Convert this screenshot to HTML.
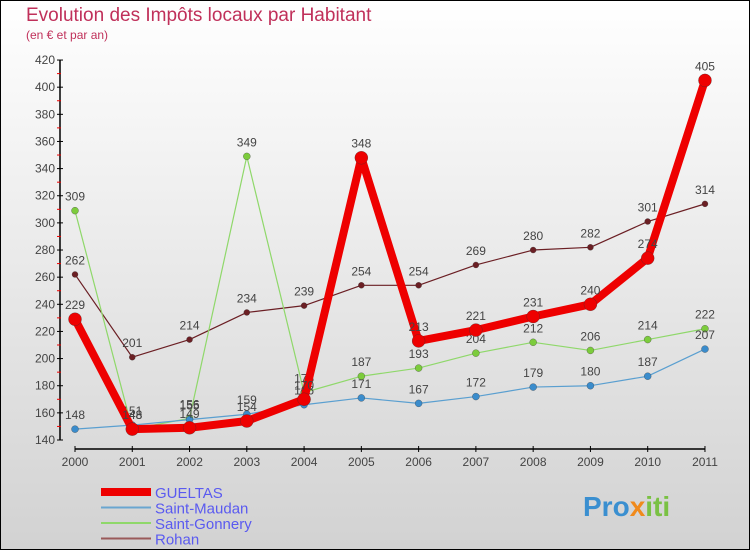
<!DOCTYPE html>
<html><head><meta charset="utf-8"><style>
body{margin:0}
#c{width:750px;height:550px;position:relative;overflow:hidden;font-family:"Liberation Sans",sans-serif}
</style></head><body>
<div id="c">
<svg id="s" width="750" height="550" xmlns="http://www.w3.org/2000/svg">
<defs><linearGradient id="bg" x1="0" y1="0" x2="0" y2="1"><stop offset="0" stop-color="#ffffff"/><stop offset="1" stop-color="#d2d2d2"/></linearGradient></defs>
<rect x="0.5" y="0.5" width="749" height="549" fill="url(#bg)" stroke="#000"/>
<text x="26" y="21" font-size="19" fill="#c0305a">Evolution des Impôts locaux par Habitant</text>
<text x="26" y="39" font-size="12" fill="#c0305a">(en € et par an)</text>
<g id="axes"></g><g id="series"></g><g id="legend"></g>
<text x="583" y="516" font-size="28" font-weight="bold" fill="#3a8fd0">Pro<tspan fill="#f08a1c">x</tspan><tspan fill="#7ac143">iti</tspan></text>
</svg></div>
<script>
const years=["2000","2001","2002","2003","2004","2005","2006","2007","2008","2009","2010","2011"];
const yTicks=[140,160,180,200,220,240,260,280,300,320,340,360,380,400,420];
const gueltas=[229,148,149,154,170,348,213,221,231,240,274,405];
const saintMaudan=[148,151,155,159,166,171,167,172,179,180,187,207];
const saintGonnery=[309,148,156,349,175,187,193,204,212,206,214,222];
const rohan=[262,201,214,234,239,254,254,269,280,282,301,314];
const NS="http://www.w3.org/2000/svg";
function X(i){return 75+i*57.27;}
function Y(v){return 440-(v-140)*1.357;}
function mk(t,a,p){const e=document.createElementNS(NS,t);for(const k in a)e.setAttribute(k,a[k]);p.appendChild(e);return e;}
const ax=document.getElementById('axes');
let e=mk('line',{x1:60,y1:Y(420),x2:60,y2:440,stroke:'#000','stroke-width':1.5},ax);

e=mk('line',{x1:75,y1:449,x2:705,y2:449,stroke:'#000','stroke-width':1.5},ax);

yTicks.forEach(v=>{mk('line',{x1:57,x2:63,y1:Y(v),y2:Y(v),stroke:'#000'},ax);
 if(v<420)mk('line',{x1:57,x2:61,y1:Y(v+10),y2:Y(v+10),stroke:'#e00'},ax);
 const t=mk('text',{x:55,y:Y(v)+4,'font-size':12,fill:'#444','text-anchor':'end'},ax);t.textContent=v;
 });
years.forEach((y,i)=>{mk('line',{x1:X(i),x2:X(i),y1:446,y2:452,stroke:'#000'},ax);
 const t=mk('text',{x:X(i),y:466,'font-size':12,fill:'#444','text-anchor':'middle'},ax);t.textContent=y;
 });
const series=[
 {n:'Rohan',d:rohan,c:'#6b1f24',w:1.2,r:3},
 {n:'Saint-Gonnery',d:saintGonnery,c:'#8fd86a',w:1.2,r:3.5,f:'#7ccc3c'},
 {n:'Saint-Maudan',d:saintMaudan,c:'#5a9fd0',w:1.2,r:3.5,f:'#3a8ccc'},
 {n:'GUELTAS',d:gueltas,c:'#ee0000',w:8,r:6.5}];
const sg=document.getElementById('series');
series.forEach(s=>{
 const g=mk('g',{},sg);
 const pts=s.d.map((v,i)=>X(i)+','+Y(v)).join(' ');
 mk('polyline',{points:pts,fill:'none',stroke:s.c,'stroke-width':s.w,'stroke-linejoin':'round'},g);
 s.d.forEach((v,i)=>{const p=mk('circle',{cx:X(i),cy:Y(v),r:s.r,fill:s.f||s.c,stroke:'#333','stroke-width':0.3},g);
  
  const t=mk('text',{x:X(i),y:Y(v)-10,'font-size':12,fill:'#444','text-anchor':'middle'},g);t.textContent=v;
  });
});
const lg=document.getElementById('legend');
[['GUELTAS','#ee0000',8],['Saint-Maudan','#6aa6d0',2],['Saint-Gonnery','#8fd86a',2],['Rohan','#9a5a5a',2]].forEach((l,i)=>{
 const y=492+i*15.5;
 const g=mk('g',{},lg);
 mk('line',{x1:101,x2:151,y1:y,y2:y,stroke:l[1],'stroke-width':l[2]},g);
 const t=mk('text',{x:155,y:y+6,'font-size':15,fill:'#5a5af0'},g);t.textContent=l[0];
});
</script></body></html>
